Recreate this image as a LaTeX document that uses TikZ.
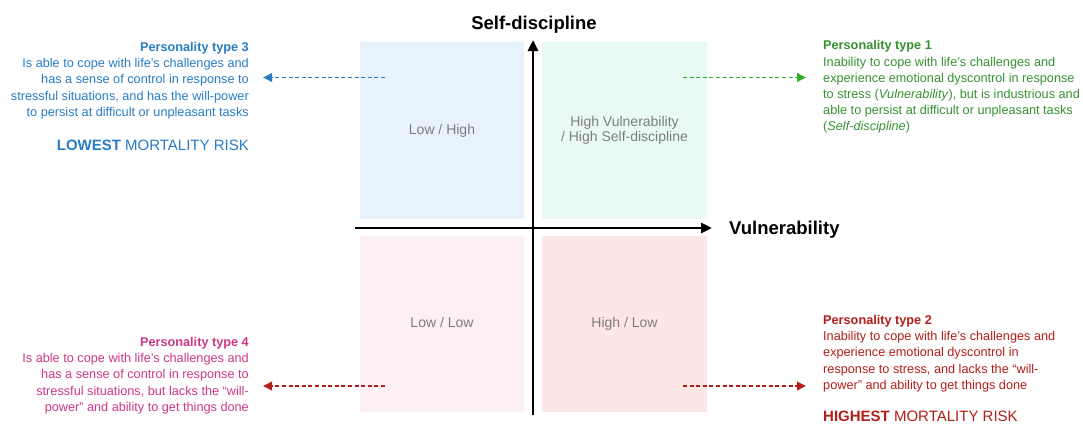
\documentclass[tikz,border=0pt]{standalone}
\usepackage{fontspec}
\setmainfont{Liberation Sans}
\usepackage{tikz}
\usetikzlibrary{arrows.meta,positioning}
\definecolor{typeblue}{RGB}{40,124,196}
\definecolor{typegreen}{RGB}{52,145,48}
\definecolor{arrowgreen}{RGB}{45,175,45}
\definecolor{typepink}{RGB}{205,55,135}
\definecolor{typered}{RGB}{178,30,25}
\definecolor{quadblue}{RGB}{231,242,253}
\definecolor{quadgreen}{RGB}{233,250,245}
\definecolor{quadpink}{RGB}{253,239,246}
\definecolor{quadred}{RGB}{253,230,228}
\definecolor{quadtext}{RGB}{125,125,125}

\begin{document}
\begin{tikzpicture}[x=1pt,y=-1pt,
    quad/.style={minimum width=164pt, minimum height=177pt, inner sep=0pt,
        text=quadtext, font=\fontsize{14}{15}\selectfont, align=center},
    oneline/.style={text height=10pt, text depth=3pt},
    axis/.style={line width=2.8pt, -{Triangle[length=11pt,width=10pt]}},
    axislabel/.style={inner sep=0pt, font=\fontsize{18.5}{22}\selectfont\bfseries},
    typetext/.style={inner sep=0pt, font=\fontsize{12.7}{16.2}\selectfont},
    risk/.style={inner sep=0pt, font=\fontsize{15}{18}\selectfont},
    link/.style={line width=1.9pt, dash pattern=on 4pt off 2.6pt,
        -{Triangle[length=9pt,width=8.5pt]}}]
    \useasboundingbox (0,0) rectangle (1083,423);

    % Quadrants
    \node[quad, oneline, fill=quadblue] (lowhigh) at (442,130.5) {Low / High};
    \node[quad, fill=quadgreen, minimum width=165pt] (highhigh) at (624.5,130.5)
        {High Vulnerability\\/ High Self-discipline};
    \node[quad, oneline, fill=quadpink, minimum height=176pt] (lowlow) at (442,324) {Low / Low};
    \node[quad, oneline, fill=quadred, minimum width=165pt, minimum height=176pt] (highlow) at (624.5,324) {High / Low};

    % Axes
    \coordinate (ybottom) at (533,415);
    \coordinate (ytop) at (533,40);
    \coordinate (xleft) at (355,228);
    \coordinate (xright) at (712,228);
    \draw[axis] (ybottom) -- (ytop);
    \draw[axis] (xleft) -- (xright);
    \node[axislabel, anchor=base] (selfdisc) at (534,29.5) {Self-discipline};
    \node[axislabel, anchor=base west] (vuln) at (729,234.5) {Vulnerability};

    % Personality type 3
    \node[typetext, text=typeblue, align=right, anchor=north east] (type3) at (249,42)
        {\textbf{Personality type 3}\\
         Is able to cope with life’s challenges and\\
         has a sense of control in response to\\
         stressful situations, and has the will-power\\
         to persist at difficult or unpleasant tasks};
    \node[risk, text=typeblue, anchor=base east] (lowest) at (249,150)
        {\textbf{LOWEST} MORTALITY RISK};

    % Personality type 1
    \node[typetext, text=typegreen, align=left, anchor=north west] (type1) at (823,40.5)
        {\textbf{Personality type 1}\\
         Inability to cope with life’s challenges and\\
         experience emotional dyscontrol in response\\
         to stress (\textit{Vulnerability}), but is industrious and\\
         able to persist at difficult or unpleasant tasks\\
         (\textit{Self-discipline})};

    % Personality type 4
    \node[typetext, text=typepink, align=right, anchor=north east] (type4) at (249,337)
        {\textbf{Personality type 4}\\
         Is able to cope with life’s challenges and\\
         has a sense of control in response to\\
         stressful situations, but lacks the “will-\\
         power” and ability to get things done};

    % Personality type 2
    \node[typetext, text=typered, align=left, anchor=north west] (type2) at (823,315)
        {\textbf{Personality type 2}\\
         Inability to cope with life’s challenges and\\
         experience emotional dyscontrol in\\
         response to stress, and lacks the “will-\\
         power” and ability to get things done};
    \node[risk, text=typered, anchor=base west] (highest) at (823,421)
        {\textbf{HIGHEST} MORTALITY RISK};

    % Links from quadrants to descriptions
    \coordinate (from3) at (385,77.5);
    \coordinate (to3) at (263,77.5);
    \coordinate (from1) at (683,77.5);
    \coordinate (to1) at (806,77.5);
    \coordinate (from4) at (385,386);
    \coordinate (to4) at (263,386);
    \coordinate (from2) at (683,386);
    \coordinate (to2) at (806,386);
    \draw[link, typeblue] (from3) -- (to3);
    \draw[link, arrowgreen] (from1) -- (to1);
    \draw[link, typered] (from4) -- (to4);
    \draw[link, typered] (from2) -- (to2);
\end{tikzpicture}
\end{document}
